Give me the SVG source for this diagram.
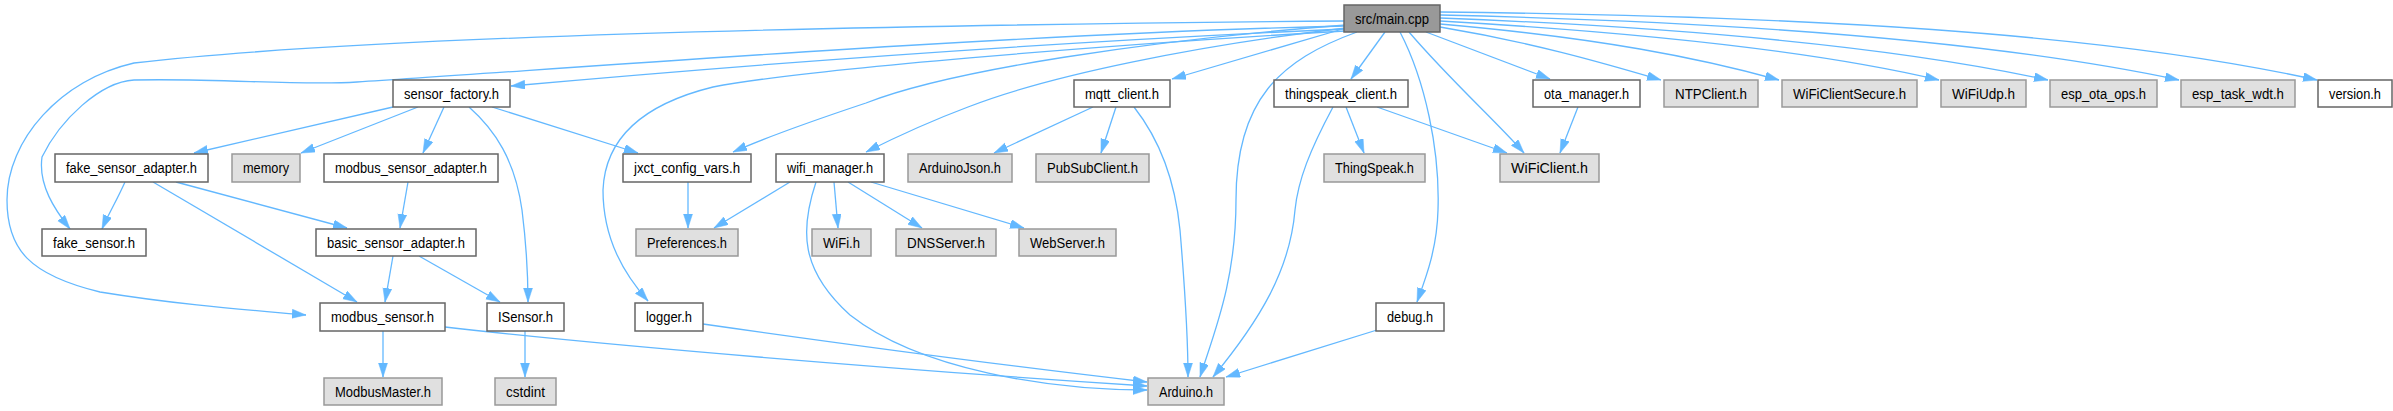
<svg xmlns="http://www.w3.org/2000/svg" width="2393" height="411" viewBox="0 0 2393 411">
<defs>
<marker id="ah" markerUnits="userSpaceOnUse" markerWidth="15" markerHeight="10" refX="14" refY="4.5" orient="auto">
<path d="M0,0 L14,4.5 L0,9 z" fill="#63B8FF" stroke="#63B8FF" stroke-width="0.5"/>
</marker>
<style>
.w rect{fill:#ffffff;stroke:#666666;stroke-width:1.5}
.g rect{fill:#E0E0E0;stroke:#999999;stroke-width:1.5}
.m rect{fill:#999999;stroke:#666666;stroke-width:1.5}
text{font-family:"Liberation Sans",Arial,sans-serif;font-size:14px;fill:#000000;text-anchor:middle}
#edges path{fill:none;stroke:#63B8FF;stroke-width:1.3;marker-end:url(#ah)}
</style>
</defs>
<rect width="2393" height="411" fill="#ffffff"/>
<g id="edges">
<path d="M1344,21 C1000,24 400,32 134,63 C60,80 7,140 7,200 C7,250 30,275 100,292 C180,305 250,310 306,315"/>
<path d="M1344,26 C1000,34 550,70 357,82 C300,86 220,78 134,80 C100,82 60,120 42,157 C38,185 55,210 70,229"/>
<path d="M1344,29 C1100,40 800,60 511,86"/>
<path d="M1345,31 C1100,45 800,70 713,87 C640,105 605,140 603,190 C603,240 625,275 648,301"/>
<path d="M1346,25 C1150,40 950,70 866,103 C800,125 760,140 733,152"/>
<path d="M1346,28 C1200,45 1050,75 968,107 C920,125 890,140 866,152"/>
<path d="M1346,28 L1172,79"/>
<path d="M1385,32 L1351,79"/>
<path d="M1357,32 C1280,60 1236,100 1236,200 C1236,280 1215,330 1200,377"/>
<path d="M1400,32 C1425,80 1440,150 1438,210 C1437,250 1425,280 1417,302"/>
<path d="M1409,32 C1450,80 1495,120 1524,153"/>
<path d="M1426,32 L1550,79"/>
<path d="M1440,27 C1530,42 1600,62 1661,80"/>
<path d="M1440,24 C1600,38 1700,58 1779,80"/>
<path d="M1440,21 C1650,33 1820,52 1939,80"/>
<path d="M1440,18 C1700,28 1900,48 2048,80"/>
<path d="M1440,15 C1750,22 2000,42 2179,80"/>
<path d="M1440,12 C1800,16 2100,32 2317,80"/>
<path d="M393,107 L194,153"/>
<path d="M418,107 L301,153"/>
<path d="M444,107 L423,153"/>
<path d="M469,107 C495,130 515,160 522,210 C527,250 528,280 528,302"/>
<path d="M492,107 L638,153"/>
<path d="M125,182 C117,200 108,215 102,229"/>
<path d="M153,182 L357,302"/>
<path d="M176,182 L347,228"/>
<path d="M408,182 L400,228"/>
<path d="M688,182 L688,228"/>
<path d="M790,182 L714,228"/>
<path d="M834,182 L838,228"/>
<path d="M848,182 L922,228"/>
<path d="M871,182 L1024,228"/>
<path d="M816,182 C800,230 800,270 850,315 C920,370 1050,390 1147,390"/>
<path d="M1093,107 L994,153"/>
<path d="M1116,107 L1101,153"/>
<path d="M1134,107 C1160,140 1175,180 1180,230 C1185,290 1188,340 1188,377"/>
<path d="M1346,107 L1364,153"/>
<path d="M1377,107 L1507,153"/>
<path d="M1333,107 C1310,150 1298,180 1295,210 C1290,270 1260,320 1213,377"/>
<path d="M1578,107 L1560,153"/>
<path d="M393,256 L385,302"/>
<path d="M419,256 L500,302"/>
<path d="M383,331 L383,377"/>
<path d="M445,327 C600,345 900,370 1147,386"/>
<path d="M525,331 L525,377"/>
<path d="M703,324 C850,345 1000,365 1147,382"/>
<path d="M1377,330 L1226,377"/>
</g>
<g id="main" class="m"><rect x="1344" y="5" width="96" height="27"/><text x="1392" y="23.5" textLength="74" lengthAdjust="spacingAndGlyphs">src/main.cpp</text></g>
<g id="sensor_factory" class="w"><rect x="393" y="80" width="117" height="27"/><text x="451.5" y="98.5" textLength="95" lengthAdjust="spacingAndGlyphs">sensor_factory.h</text></g>
<g id="mqtt_client" class="w"><rect x="1074" y="80" width="96" height="27"/><text x="1122" y="98.5" textLength="74" lengthAdjust="spacingAndGlyphs">mqtt_client.h</text></g>
<g id="thingspeak_client" class="w"><rect x="1274" y="80" width="134" height="27"/><text x="1341" y="98.5" textLength="112" lengthAdjust="spacingAndGlyphs">thingspeak_client.h</text></g>
<g id="ota_manager" class="w"><rect x="1533" y="80" width="107" height="27"/><text x="1586.5" y="98.5" textLength="85" lengthAdjust="spacingAndGlyphs">ota_manager.h</text></g>
<g id="NTPClient" class="g"><rect x="1664" y="80" width="94" height="27"/><text x="1711" y="98.5" textLength="72" lengthAdjust="spacingAndGlyphs">NTPClient.h</text></g>
<g id="WiFiClientSecure" class="g"><rect x="1782" y="80" width="135" height="27"/><text x="1849.5" y="98.5" textLength="113" lengthAdjust="spacingAndGlyphs">WiFiClientSecure.h</text></g>
<g id="WiFiUdp" class="g"><rect x="1941" y="80" width="85" height="27"/><text x="1983.5" y="98.5" textLength="63" lengthAdjust="spacingAndGlyphs">WiFiUdp.h</text></g>
<g id="esp_ota_ops" class="g"><rect x="2050" y="80" width="107" height="27"/><text x="2103.5" y="98.5" textLength="85" lengthAdjust="spacingAndGlyphs">esp_ota_ops.h</text></g>
<g id="esp_task_wdt" class="g"><rect x="2181" y="80" width="114" height="27"/><text x="2238" y="98.5" textLength="92" lengthAdjust="spacingAndGlyphs">esp_task_wdt.h</text></g>
<g id="version" class="w"><rect x="2318" y="80" width="74" height="27"/><text x="2355" y="98.5" textLength="52" lengthAdjust="spacingAndGlyphs">version.h</text></g>
<g id="fake_sensor_adapter" class="w"><rect x="55" y="154" width="153" height="28"/><text x="131.5" y="173" textLength="131" lengthAdjust="spacingAndGlyphs">fake_sensor_adapter.h</text></g>
<g id="memory" class="g"><rect x="232" y="154" width="68" height="28"/><text x="266" y="173" textLength="46" lengthAdjust="spacingAndGlyphs">memory</text></g>
<g id="modbus_sensor_adapter" class="w"><rect x="324" y="154" width="174" height="28"/><text x="411" y="173" textLength="152" lengthAdjust="spacingAndGlyphs">modbus_sensor_adapter.h</text></g>
<g id="jxct_config_vars" class="w"><rect x="623" y="154" width="128" height="28"/><text x="687" y="173" textLength="106" lengthAdjust="spacingAndGlyphs">jxct_config_vars.h</text></g>
<g id="wifi_manager" class="w"><rect x="776" y="154" width="108" height="28"/><text x="830" y="173" textLength="86" lengthAdjust="spacingAndGlyphs">wifi_manager.h</text></g>
<g id="ArduinoJson" class="g"><rect x="908" y="154" width="104" height="28"/><text x="960" y="173" textLength="82" lengthAdjust="spacingAndGlyphs">ArduinoJson.h</text></g>
<g id="PubSubClient" class="g"><rect x="1036" y="154" width="113" height="28"/><text x="1092.5" y="173" textLength="91" lengthAdjust="spacingAndGlyphs">PubSubClient.h</text></g>
<g id="ThingSpeak" class="g"><rect x="1324" y="154" width="101" height="28"/><text x="1374.5" y="173" textLength="79" lengthAdjust="spacingAndGlyphs">ThingSpeak.h</text></g>
<g id="WiFiClient" class="g"><rect x="1500" y="154" width="99" height="28"/><text x="1549.5" y="173" textLength="77" lengthAdjust="spacingAndGlyphs">WiFiClient.h</text></g>
<g id="fake_sensor" class="w"><rect x="42" y="229" width="104" height="27"/><text x="94" y="247.5" textLength="82" lengthAdjust="spacingAndGlyphs">fake_sensor.h</text></g>
<g id="basic_sensor_adapter" class="w"><rect x="316" y="229" width="160" height="27"/><text x="396" y="247.5" textLength="138" lengthAdjust="spacingAndGlyphs">basic_sensor_adapter.h</text></g>
<g id="Preferences" class="g"><rect x="636" y="229" width="102" height="27"/><text x="687" y="247.5" textLength="80" lengthAdjust="spacingAndGlyphs">Preferences.h</text></g>
<g id="WiFi" class="g"><rect x="812" y="229" width="59" height="27"/><text x="841.5" y="247.5" textLength="37" lengthAdjust="spacingAndGlyphs">WiFi.h</text></g>
<g id="DNSServer" class="g"><rect x="896" y="229" width="100" height="27"/><text x="946" y="247.5" textLength="78" lengthAdjust="spacingAndGlyphs">DNSServer.h</text></g>
<g id="WebServer" class="g"><rect x="1019" y="229" width="97" height="27"/><text x="1067.5" y="247.5" textLength="75" lengthAdjust="spacingAndGlyphs">WebServer.h</text></g>
<g id="modbus_sensor" class="w"><rect x="320" y="303" width="125" height="28"/><text x="382.5" y="322" textLength="103" lengthAdjust="spacingAndGlyphs">modbus_sensor.h</text></g>
<g id="ISensor" class="w"><rect x="487" y="303" width="77" height="28"/><text x="525.5" y="322" textLength="55" lengthAdjust="spacingAndGlyphs">ISensor.h</text></g>
<g id="logger" class="w"><rect x="635" y="303" width="68" height="28"/><text x="669" y="322" textLength="46" lengthAdjust="spacingAndGlyphs">logger.h</text></g>
<g id="debug" class="w"><rect x="1376" y="303" width="68" height="28"/><text x="1410" y="322" textLength="46" lengthAdjust="spacingAndGlyphs">debug.h</text></g>
<g id="ModbusMaster" class="g"><rect x="324" y="378" width="118" height="27"/><text x="383" y="396.5" textLength="96" lengthAdjust="spacingAndGlyphs">ModbusMaster.h</text></g>
<g id="cstdint" class="g"><rect x="495" y="378" width="61" height="27"/><text x="525.5" y="396.5" textLength="39" lengthAdjust="spacingAndGlyphs">cstdint</text></g>
<g id="Arduino" class="g"><rect x="1148" y="378" width="76" height="27"/><text x="1186" y="396.5" textLength="54" lengthAdjust="spacingAndGlyphs">Arduino.h</text></g>
</svg>
